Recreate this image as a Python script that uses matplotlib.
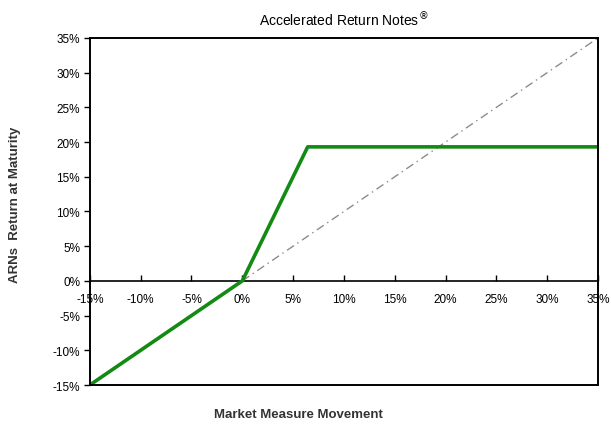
import matplotlib
matplotlib.use("Agg")
import matplotlib.pyplot as plt
from matplotlib.ticker import FuncFormatter, MultipleLocator

# payoff profile (values in %)
market_move = [-15, 0, 6.43, 35]
arn_return = [-15, 0, 19.3, 19.3]
# 1:1 reference line
ref_x = [0, 35]
ref_y = [0, 35]

plt.rcParams['font.family'] = ['Liberation Sans', 'DejaVu Sans']

fig = plt.figure(figsize=(6.11, 4.27), dpi=100)
ax = fig.add_axes([0.147, 0.096, 0.832, 0.813])

ax.plot(ref_x, ref_y, color='#8c8c8c', lw=1, ls=(0, (6, 3, 1, 3)))
ax.plot(market_move, arn_return, color='#138a13', lw=2.6, solid_capstyle='butt')

ax.set_xlim(-15, 35)
ax.set_ylim(-15, 35)
pct = FuncFormatter(lambda v, p: '%d%%' % round(v))
ax.yaxis.set_major_locator(MultipleLocator(5))
ax.yaxis.set_major_formatter(pct)
ax.tick_params(axis='y', direction='out', length=4, width=1, labelsize=8.5, pad=3)

# x axis sits on the zero line
ax.set_xticks([])
zero = ax.secondary_xaxis(15 / 50)
zero.xaxis.set_major_locator(MultipleLocator(5))
zero.xaxis.set_major_formatter(pct)
zero.tick_params(direction='in', length=4, width=1, labelsize=8.5, pad=9)
zero.spines['bottom'].set_linewidth(1.2)

for s in ax.spines.values():
    s.set_linewidth(1.4)

ax.set_title('Accelerated Return Notes$^{\u00ae}$', fontsize=10, pad=9)
fig.text(0.025, 0.52, 'ARNs  Return at Maturity', rotation=90,
         ha='center', va='center', fontsize=9.5, fontweight='bold', color='#333333')
fig.text(0.488, 0.028, 'Market Measure Movement',
         ha='center', va='center', fontsize=9.5, fontweight='bold', color='#333333')

fig.savefig('out.png', dpi=100)
